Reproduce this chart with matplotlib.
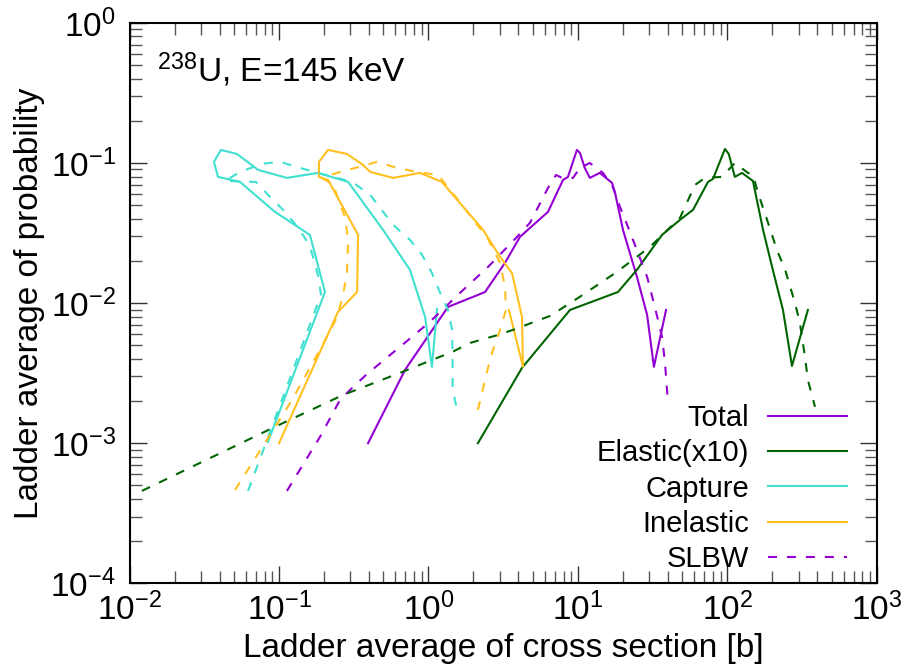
import numpy as np
import matplotlib
matplotlib.use("Agg")
import matplotlib.pyplot as plt

plt.rcParams['font.family'] = ['Liberation Sans', 'DejaVu Sans']
plt.rcParams['mathtext.fontset'] = 'custom'
plt.rcParams['mathtext.rm'] = 'Liberation Sans'
plt.rcParams['mathtext.it'] = 'Liberation Sans:italic'
plt.rcParams['mathtext.bf'] = 'Liberation Sans:bold'

# ladder averages: (cross section [b], probability)
total_x = [0.394, 0.697, 1.35, 2.39, 3.25, 4.09, 6.30, 7.94, 8.57, 9.84, 10.3, 11.1, 12.0, 14.0,
           16.9, 17.7, 20.0, 24.8, 29.0, 32.2, 38.8]
total_y = [0.0010, 0.00334, 0.00939, 0.0120, 0.0194, 0.0297, 0.0448, 0.0757, 0.0796, 0.124, 0.118,
           0.0923, 0.0783, 0.0850, 0.0721, 0.0612, 0.0333, 0.0154, 0.00824, 0.00351, 0.00894]

elastic_x = [2.14, 4.22, 8.84, 18.5, 24.8, 36.5, 48.1, 58.8, 74.1, 80.0, 96.2, 102, 112, 125,
             148, 173, 201, 235, 270, 345]
elastic_y = [0.0010, 0.00345, 0.00894, 0.0120, 0.0173, 0.0307, 0.0393, 0.0463, 0.0733, 0.0770,
             0.126, 0.116, 0.0796, 0.0850, 0.0745, 0.0333, 0.0173, 0.00894, 0.00356, 0.00894]

capture_x = [0.0843, 0.203, 0.161, 0.094, 0.0548, 0.0391, 0.0367, 0.0409, 0.0524, 0.0725, 0.113,
             0.182, 0.290, 0.497, 0.751, 0.949, 1.055, 1.14]
capture_y = [0.00102, 0.0120, 0.0307, 0.0448, 0.0733, 0.0796, 0.102, 0.124, 0.116, 0.0893, 0.0783,
             0.0850, 0.0733, 0.0333, 0.0173, 0.00797, 0.00351, 0.0091]

inel_x = [0.100, 0.248, 0.333, 0.338, 0.213, 0.185, 0.185, 0.213, 0.285, 0.365, 0.407, 0.580,
          0.877, 1.23, 1.62, 2.32, 3.01, 3.62, 4.22, 4.29, 3.45]
inel_y = [0.00100, 0.00865, 0.0120, 0.0307, 0.0757, 0.0796, 0.102, 0.124, 0.116, 0.0969, 0.0864,
          0.0783, 0.0850, 0.0733, 0.0519, 0.0333, 0.0214, 0.0164, 0.00797, 0.00351, 0.00894]

# SLBW
slbw_total_x = [0.113, 0.188, 0.256, 0.313, 0.388, 0.644, 1.02, 1.62, 2.50, 3.91, 4.77, 6.30, 7.13,
                7.82, 9.26, 10.3, 12.0, 14.7, 17.1, 19.1, 21.6, 25.2, 29.0, 31.8, 34.3, 36.5,
                38.2, 40.0]
slbw_total_y = [4.57e-4, 0.00111, 0.00204, 0.00252, 0.00312, 0.00487, 0.00734, 0.0118, 0.0181,
                0.0297, 0.0374, 0.0664, 0.0822, 0.0783, 0.0783, 0.0923, 0.100, 0.0850, 0.0675,
                0.0486, 0.0350, 0.0228, 0.0154, 0.0105, 0.00759, 0.00574, 0.00374, 0.00194]

slbw_elastic_x = [0.0121, 0.0912, 0.268, 0.644, 1.055, 1.44, 1.90, 2.92, 3.67, 6.50, 10.3, 18.2,
                  30.3, 48.1, 60.7, 70.7, 91.8, 112, 137, 148, 160, 184, 214, 243, 283, 305,
                  330, 345, 385]
slbw_elastic_y = [4.57e-4, 0.00129, 0.00221, 0.00318, 0.00393, 0.00448, 0.00520, 0.00593, 0.00644,
                  0.00810, 0.0111, 0.0167, 0.0252, 0.0406, 0.0698, 0.0783, 0.0796, 0.100, 0.0850,
                  0.0822, 0.0612, 0.0393, 0.0240, 0.0173, 0.0100, 0.00722, 0.00413, 0.00283,
                  0.00182]

slbw_capture_x = [0.0621, 0.191, 0.182, 0.161, 0.136, 0.110, 0.0871, 0.0701, 0.0436, 0.0548,
                  0.0769, 0.1016, 0.138, 0.182, 0.308, 0.407, 0.580, 0.751, 0.906, 1.055, 1.19,
                  1.35, 1.44, 1.45, 1.45, 1.55]
slbw_capture_y = [4.57e-4, 0.01145, 0.0159, 0.0256, 0.0339, 0.0448, 0.0573, 0.0733, 0.0745,
                  0.0864, 0.0986, 0.102, 0.0923, 0.0850, 0.0733, 0.0592, 0.0362, 0.0283, 0.0221,
                  0.0164, 0.0120, 0.00894, 0.00644, 0.00374, 0.00248, 0.00173]

slbw_inel_x = [0.0508, 0.119, 0.161, 0.209, 0.245, 0.268, 0.285, 0.290, 0.276, 0.230, 0.194, 0.256,
               0.365, 0.453, 0.615, 0.837, 1.16, 1.39, 1.62, 1.99, 2.46, 3.01, 3.25, 3.30, 3.01,
               2.70, 2.46, 2.14]
slbw_inel_y = [4.64e-4, 0.00194, 0.00345, 0.00574, 0.00797, 0.01145, 0.0164, 0.0283, 0.0412,
               0.0698, 0.0783, 0.0864, 0.0954, 0.102, 0.0923, 0.0864, 0.0822, 0.0643, 0.0528,
               0.0393, 0.0297, 0.0194, 0.0130, 0.00894, 0.00644, 0.00463, 0.00323, 0.00173]

c_total = '#9400d3'
c_elastic = '#006400'
c_capture = '#40e0d0'
c_inel = '#ffc020'
dash = (4.3, 4.8)
lw = 1.5

fig = plt.figure(figsize=(9.12, 6.69), dpi=100)
ax = fig.add_axes([0.142, 0.128, 0.8196, 0.8378])

ax.plot(total_x, total_y, color=c_total, lw=lw, label='Total')
ax.plot(elastic_x, elastic_y, color=c_elastic, lw=lw, label='Elastic(x10)')
ax.plot(capture_x, capture_y, color=c_capture, lw=lw, label='Capture')
ax.plot(inel_x, inel_y, color=c_inel, lw=lw, label='Inelastic')
ax.plot(slbw_total_x, slbw_total_y, color=c_total, lw=lw, dashes=dash, label='SLBW')
ax.plot(slbw_elastic_x, slbw_elastic_y, color=c_elastic, lw=lw, dashes=dash)
ax.plot(slbw_capture_x, slbw_capture_y, color=c_capture, lw=lw, dashes=dash)
ax.plot(slbw_inel_x, slbw_inel_y, color=c_inel, lw=lw, dashes=dash)

ax.set_xscale('log')
ax.set_yscale('log')
ax.set_xlim(1e-2, 1e3)
ax.set_ylim(1e-4, 1e0)

ax.tick_params(which='both', direction='in', top=True, right=True, labelsize=24)
ax.tick_params(axis='x', which='both', pad=7)
ax.tick_params(axis='y', which='both', pad=10)
ax.tick_params(which='major', length=12, width=1.0, color='#333333')
ax.tick_params(which='minor', length=8.5, width=1.0, color='#555555')
for s in ax.spines.values():
    s.set_linewidth(1.5)

ax.set_xlabel('Ladder average of cross section [b]', fontsize=24, labelpad=4)
ax.set_ylabel('Ladder average of probability', fontsize=24, labelpad=4)

ax.text(0.037, 0.895, r'$^{238}$U, E=145 keV', transform=ax.transAxes, fontsize=24,
        va='baseline', ha='left')

ax.legend(loc='lower right', bbox_to_anchor=(0.979, -0.008), frameon=False, fontsize=21,
          markerfirst=False, handlelength=2.7, handletextpad=0.65, labelspacing=0.25,
          borderpad=0)

fig.savefig('out.png', dpi=100)
